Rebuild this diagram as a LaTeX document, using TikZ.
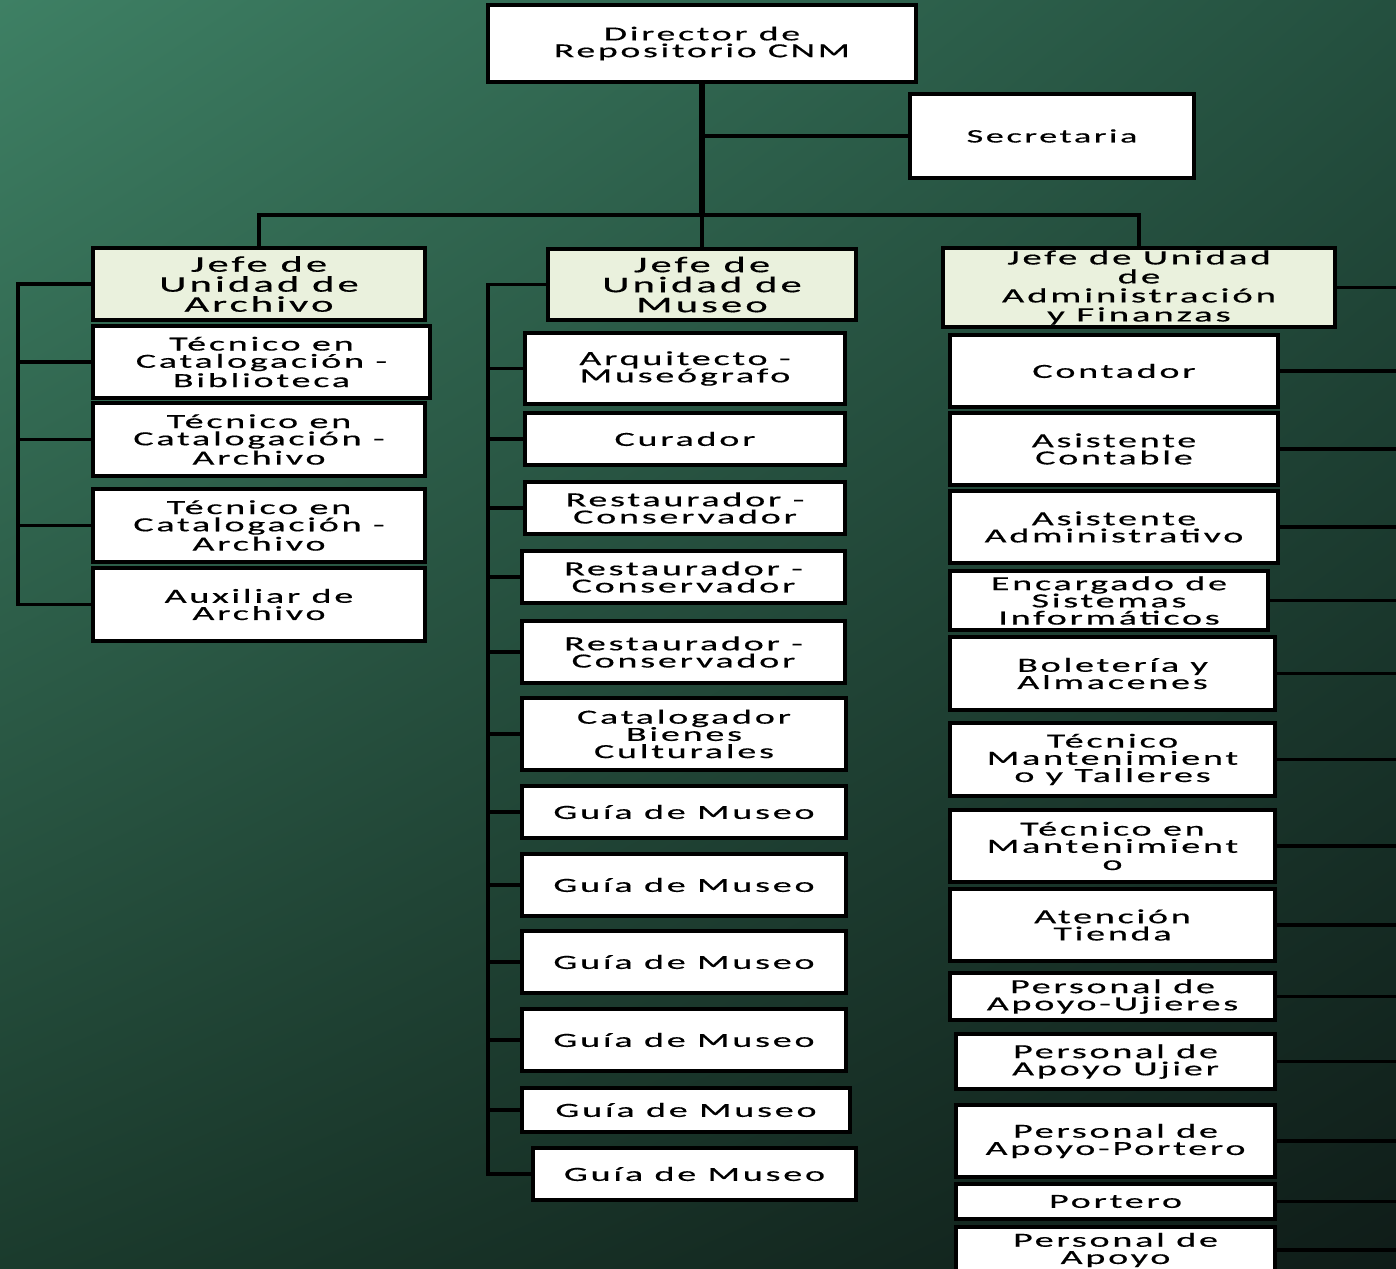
\documentclass[tikz,border=0pt]{standalone}
\usepackage{fontspec}
\setmainfont{Carlito}[FakeStretch=1.9,LetterSpace=14,FakeBold=0.5]
\usepackage{tikz}
\usetikzlibrary{shadings}
\definecolor{FondoSI}{HTML}{3E8064}
\definecolor{FondoSD}{HTML}{24503F}
\definecolor{FondoII}{HTML}{1B3B2D}
\definecolor{FondoID}{HTML}{0F1C18}
\definecolor{Verdoso}{HTML}{EAF1DD}
\tikzset{
Puesto/.style={
 draw=black,
 line width=1.8pt,
 fill=white,
 inner sep=0pt,
 align=center,
 font=\fontsize{10pt}{8.6pt}\selectfont
 },
Jefatura/.style={
 Puesto,
 fill=Verdoso,
 font=\fontsize{11.2pt}{10pt}\selectfont
 },
Enlace/.style={
 draw=black,
 line width=1.7pt
 },
Tronco/.style={
 draw=black,
 line width=2.8pt
 }
}

\begin{document}
\begin{tikzpicture}[x=0.5pt,y=-0.5pt]
\useasboundingbox (0,0) rectangle (1396,1268);
\clip (0,0) rectangle (1396,1268);
\shade[upper left=FondoSI,upper right=FondoSD,lower left=FondoII,lower right=FondoID] (0,0) rectangle (1396,1268);

\node[Puesto,minimum width=214pt,minimum height=38.5pt,font=\fontsize{9.9pt}{8.4pt}\selectfont] (director) at (702,43.5) {Director de\\Repositorio CNM};
\node[Puesto,minimum width=142pt,minimum height=42pt,font=\fontsize{9.5pt}{8pt}\selectfont] (secretaria) at (1052,136) {Secretaria};

\node[Jefatura,minimum width=166pt,minimum height=36pt] (jarchivo) at (259,284) {Jefe de\\Unidad de\\Archivo};
\node[Jefatura,minimum width=154pt,minimum height=35.5pt] (jmuseo) at (702,284.5) {Jefe de\\Unidad de\\Museo};
\node[Jefatura,minimum width=196pt,minimum height=39.5pt,font=\fontsize{10.2pt}{9.5pt}\selectfont] (jadmin) at (1139,287.5) {Jefe de Unidad\\de\\Administración\\y Finanzas};

\node[Puesto,minimum width=168.5pt,minimum height=36pt] (arch1) at (261.5,362) {Técnico en\\Catalogación -\\Biblioteca};
\node[Puesto,minimum width=166pt,minimum height=36.5pt] (arch2) at (259,439.5) {Técnico en\\Catalogación -\\Archivo};
\node[Puesto,minimum width=166pt,minimum height=36.5pt] (arch3) at (259,525.5) {Técnico en\\Catalogación -\\Archivo};
\node[Puesto,minimum width=166pt,minimum height=36.5pt] (arch4) at (259,604.5) {Auxiliar de\\Archivo};

\node[Puesto,minimum width=160pt,minimum height=35.5pt] (mus1) at (685,368.5) {Arquitecto -\\Museógrafo};
\node[Puesto,minimum width=160pt,minimum height=26pt] (mus2) at (685,439) {Curador};
\node[Puesto,minimum width=160pt,minimum height=26pt] (mus3) at (685,508) {Restaurador -\\Conservador};
\node[Puesto,minimum width=161.5pt,minimum height=26pt] (mus4) at (683.5,577) {Restaurador -\\Conservador};
\node[Puesto,minimum width=161.5pt,minimum height=31pt] (mus5) at (683.5,652) {Restaurador -\\Conservador};
\node[Puesto,minimum width=162pt,minimum height=36pt] (mus6) at (684,734) {Catalogador\\Bienes\\Culturales};
\node[Puesto,minimum width=162pt,minimum height=26pt] (mus7) at (684,812) {Guía de Museo};
\node[Puesto,minimum width=162pt,minimum height=31pt] (mus8) at (684,885) {Guía de Museo};
\node[Puesto,minimum width=162pt,minimum height=31pt] (mus9) at (684,962) {Guía de Museo};
\node[Puesto,minimum width=162pt,minimum height=31pt] (mus10) at (684,1040) {Guía de Museo};
\node[Puesto,minimum width=164pt,minimum height=22pt] (mus11) at (686,1110) {Guía de Museo};
\node[Puesto,minimum width=161.5pt,minimum height=26pt] (mus12) at (694.5,1174) {Guía de Museo};

\node[Puesto,minimum width=164pt,minimum height=36pt] (adm1) at (1114,371) {Contador};
\node[Puesto,minimum width=164pt,minimum height=36pt] (adm2) at (1114,449) {Asistente\\Contable};
\node[Puesto,minimum width=164pt,minimum height=36pt] (adm3) at (1114,527) {Asistente\\Administrativo};
\node[Puesto,minimum width=159pt,minimum height=29.5pt] (adm4) at (1109,600.5) {Encargado de\\Sistemas\\Informáticos};
\node[Puesto,minimum width=162.5pt,minimum height=36.5pt] (adm5) at (1112.5,673.5) {Boletería y\\Almacenes};
\node[Puesto,minimum width=162.5pt,minimum height=36.5pt] (adm6) at (1112.5,759.5) {Técnico\\Mantenimient\\o y Talleres};
\node[Puesto,minimum width=162.5pt,minimum height=36pt] (adm7) at (1112.5,846) {Técnico en\\Mantenimient\\o};
\node[Puesto,minimum width=162.5pt,minimum height=36pt] (adm8) at (1112.5,925) {Atención\\Tienda};
\node[Puesto,minimum width=162.5pt,minimum height=23.5pt] (adm9) at (1112.5,996.5) {Personal de\\Apoyo-Ujieres};
\node[Puesto,minimum width=159.5pt,minimum height=27.5pt] (adm10) at (1115.5,1061.5) {Personal de\\Apoyo Ujier};
\node[Puesto,minimum width=159.5pt,minimum height=36pt] (adm11) at (1115.5,1141) {Personal de\\Apoyo-Portero};
\node[Puesto,minimum width=159.5pt,minimum height=17.5pt] (adm12) at (1115.5,1201.5) {Portero};
\node[Puesto,minimum width=159.5pt,minimum height=23pt] (adm13) at (1115.5,1250) {Personal de\\Apoyo};

\coordinate (bus) at (702,215);
\coordinate (railA) at (18,284);
\coordinate (railM) at (488,284.5);
\coordinate (railD) at (1430,287.5);

\draw[Tronco] (director.south) -- (director.south |- bus);
\draw[Enlace] (director.south |- secretaria.west) -- (secretaria.west);
\draw[Enlace] (jarchivo.north) |- (bus) -| (jadmin.north);
\draw[Enlace] (bus) -- (jmuseo.north);

\draw[Enlace] (jarchivo.west) -- (railA) |- (arch4.west);
\foreach \n in {arch1,arch2,arch3}
 \draw[Enlace] (\n.west) -- (\n.west -| railA);

\draw[Enlace] (jmuseo.west) -- (railM) |- (mus12.west);
\foreach \n in {mus1,mus2,mus3,mus4,mus5,mus6,mus7,mus8,mus9,mus10,mus11}
 \draw[Enlace] (\n.west) -- (\n.west -| railM);

\draw[Enlace] (jadmin.east) -- (railD) |- (adm13.east);
\foreach \n in {adm1,adm2,adm3,adm4,adm5,adm6,adm7,adm8,adm9,adm10,adm11,adm12}
 \draw[Enlace] (\n.east) -- (\n.east -| railD);
\end{tikzpicture}
\end{document}
